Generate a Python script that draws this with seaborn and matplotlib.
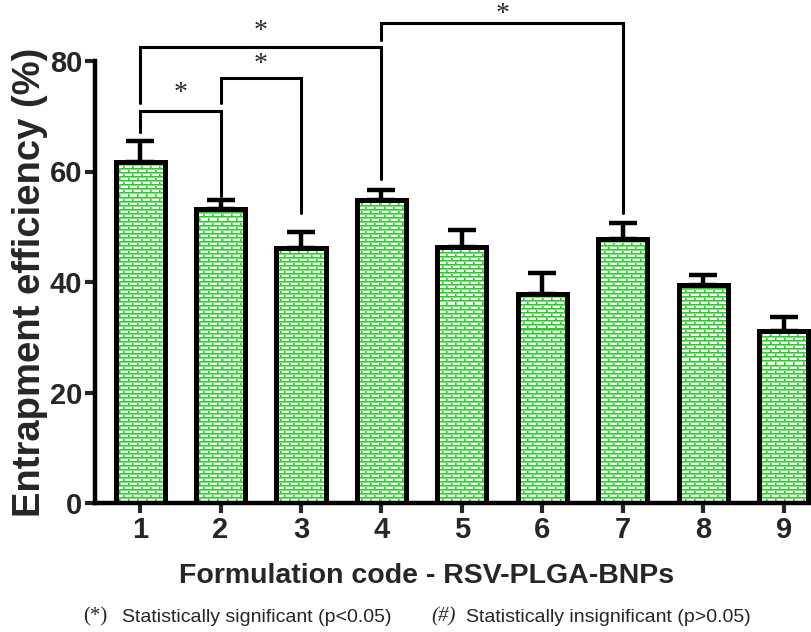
import numpy as np
import pandas as pd
import matplotlib
matplotlib.use("Agg")
import matplotlib.pyplot as plt
import seaborn as sns

# Entrapment efficiency (%) per formulation, mean and SD
formulations = ["1", "2", "3", "4", "5", "6", "7", "8", "9"]
efficiency = [61.8, 53.3, 46.1, 54.8, 46.4, 37.9, 47.7, 39.5, 31.2]
sd = [3.7, 1.5, 2.9, 1.9, 3.0, 3.7, 2.9, 1.8, 2.5]

# Significance brackets: (left bar, right bar, bracket height, left leg end, right leg end)
brackets = [
    (0, 1, 70.9, 67.1, 55.6),
    (1, 2, 76.9, 72.4, 52.5),
    (0, 3, 82.5, 72.4, 58.6),
    (3, 6, 86.9, 83.8, 52.5),
]
star_heights = [74.2, 79.3, 85.4, 88.5]

sns.set_theme(style="ticks")
plt.rcParams["font.family"] = ["Liberation Sans", "DejaVu Sans"]

df = pd.DataFrame({"code": formulations, "ee": efficiency})

fig = plt.figure(figsize=(8.12, 6.32), dpi=100)
ax = fig.add_axes([95 / 812, 129 / 632, (812 - 95) / 812, 442 / 632])

sns.barplot(data=df, x="code", y="ee", color="white", width=0.61,
            edgecolor="black", linewidth=3.6, ax=ax, zorder=2)

xlim = (-0.56, 8.35)
ylim = (0, 80)
ax.set_xlim(*xlim)
ax.set_ylim(*ylim)

# Brick texture for the bar fills, one image pixel per screen pixel
fig.canvas.draw()
bb = ax.get_window_extent()
W, H = int(round(bb.width)), int(round(bb.height))
green = np.array([40, 205, 40]) / 255.0
light = np.array([125, 226, 125]) / 255.0
tex = np.ones((H, W, 3))
cols = np.arange(W)
for r in range(H):
    phase = r % 4
    if phase == 0:
        tex[r, :, :] = green
    elif phase == 1:
        tex[r, :, :] = light
    else:
        offset = 0 if (r // 4) % 2 == 0 else 4
        c = (cols + offset) % 9
        tex[r, c == 0, :] = green
        tex[r, c == 1, :] = light

for patch in list(ax.patches):
    im = ax.imshow(tex, extent=[xlim[0], xlim[1], ylim[0], ylim[1]],
                   origin="upper", aspect="auto", interpolation="nearest",
                   zorder=1.5)
    im.set_clip_path(patch)
    patch.set_facecolor("none")
    patch.set_zorder(2.5)

ax.set_xlim(*xlim)
ax.set_ylim(*ylim)

# Upper error bars only
xpos = np.arange(len(formulations))
ax.errorbar(xpos, efficiency, yerr=[np.zeros(len(sd)), sd], fmt="none",
            ecolor="black", elinewidth=3.2, capsize=10, capthick=3.2,
            zorder=2.2)

# Significance brackets and stars
for (i, j, h, li, lj), sh in zip(brackets, star_heights):
    ax.plot([i, i, j, j], [li, h, h, lj], color="black", lw=2.2,
            clip_on=False, solid_joinstyle="miter", zorder=3)
    ax.text((i + j) / 2, sh, "*", ha="center", va="center", fontsize=20,
            family=["Liberation Serif", "DejaVu Serif"], clip_on=False)

ax.set_yticks([0, 20, 40, 60, 80])
ax.tick_params(axis="both", width=3, length=7, labelsize=21, direction="out",
               pad=2)
for lab in ax.get_xticklabels() + ax.get_yticklabels():
    lab.set_fontweight("bold")

for side in ["top", "right"]:
    ax.spines[side].set_visible(False)
for side in ["left", "bottom"]:
    ax.spines[side].set_linewidth(3.2)
    ax.spines[side].set_color("black")

ax.set_xlabel("Formulation code - RSV-PLGA-BNPs", fontsize=20.5,
              fontweight="bold")
ax.xaxis.set_label_coords((427 - 95) / 717, (503 - 576) / 442)
ax.xaxis.label.set_va("center")
ax.set_ylabel("Entrapment efficiency (%)", fontsize=27.5, fontweight="bold")
ax.yaxis.set_label_coords((30 - 95) / 717, 0.5)
ax.yaxis.label.set_va("center")

# Footnote explaining the markers
fy = 1 - 617 / 632
fig.text(95 / 812, fy, "(*)", ha="center", va="center",
         fontsize=15, family=["Liberation Serif", "DejaVu Serif"])
fig.text(122 / 812, fy, "Statistically significant (p<0.05)",
         ha="left", va="center", fontsize=14)
fig.text(444 / 812, fy, "(#)", ha="center", va="center",
         fontsize=15, style="italic",
         family=["Liberation Serif", "DejaVu Serif"])
fig.text(466 / 812, fy, "Statistically insignificant (p>0.05)",
         ha="left", va="center", fontsize=14)

fig.savefig("out.png", dpi=100)
